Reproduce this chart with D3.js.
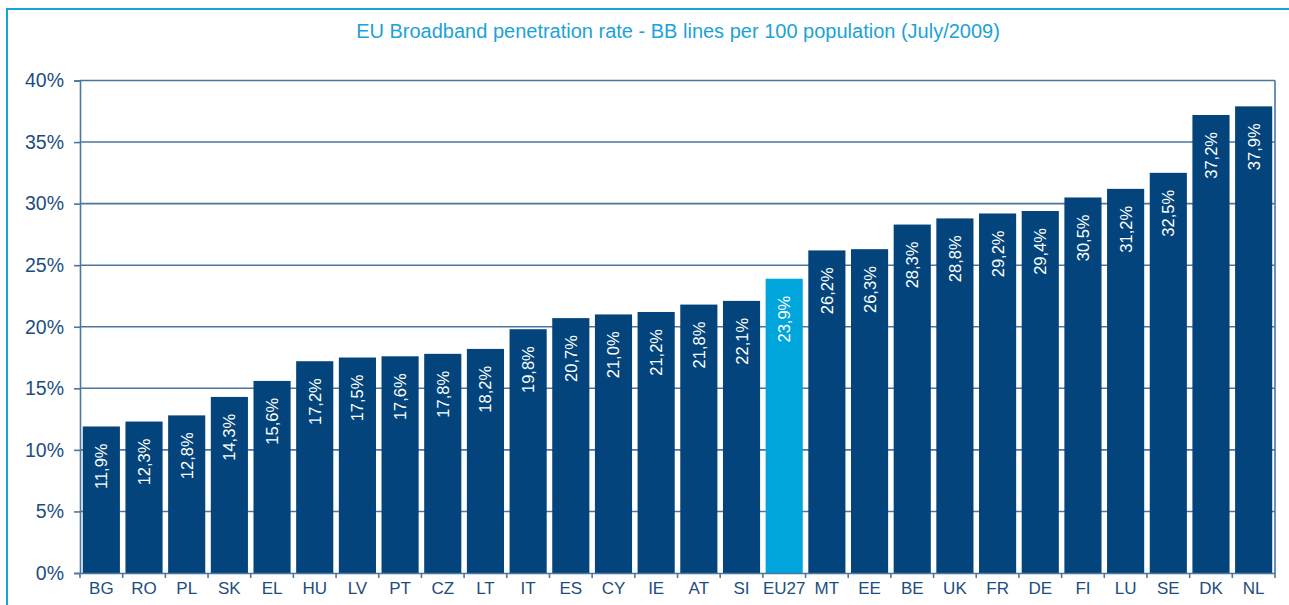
<!DOCTYPE html>
<html>
<head>
<meta charset="utf-8">
<script src="https://cdn.jsdelivr.net/npm/d3@7"></script>
<style>
  body { margin: 0; background: #fff; }
  svg { display: block; font-family: "Liberation Sans", Arial, sans-serif; }
</style>
</head>
<body>
<svg id="chart" width="1289" height="605"></svg>
<script>
// countries, sorted by penetration rate
var countries = ["BG", "RO", "PL", "SK", "EL", "HU", "LV", "PT", "CZ", "LT", "IT", "ES", "CY", "IE",
    "AT", "SI", "EU27", "MT", "EE", "BE", "UK", "FR", "DE", "FI", "LU", "SE", "DK", "NL"];
// BB lines per 100 population
var rates = [11.9, 12.3, 12.8, 14.3, 15.6, 17.2, 17.5, 17.6, 17.8, 18.2, 19.8, 20.7, 21.0, 21.2,
    21.8, 22.1, 23.9, 26.2, 26.3, 28.3, 28.8, 29.2, 29.4, 30.5, 31.2, 32.5, 37.2, 37.9];
var yTicks = [0, 5, 10, 15, 20, 25, 30, 35, 40];
var title = "EU Broadband penetration rate - BB lines per 100 population (July/2009)";

var data = countries.map(function (c, i) { return {name: c, value: rates[i]}; });

var svg = d3.select("#chart");
var plotLeft = 80, plotRight = 1275, plotTop = 80.5, plotBottom = 573;
var navy = "#02447b", cyan = "#00a6db", grid = "#4a76a0", text = "#1d4d7f";

// outer frame
svg.append("rect").attr("x", 7).attr("y", 9).attr("width", 1300).attr("height", 620)
    .attr("fill", "none").attr("stroke", "#12a5dc").attr("stroke-width", 2);

svg.append("text").attr("x", 678).attr("y", 38).attr("text-anchor", "middle")
    .attr("font-size", 20).attr("fill", "#1ba2d9").text(title);

var x = d3.scaleBand().domain(countries).range([plotLeft, plotRight]).paddingInner(0.13).paddingOuter(0.065);
var y = d3.scaleLinear().domain([0, 40]).range([plotBottom, plotTop]);

//gridlines
svg.append("g").selectAll("line").data(yTicks.filter(function (d) { return d > 0; })).enter()
    .append("line").attr("x1", plotLeft).attr("x2", plotRight)
    .attr("y1", function (d) { return y(d); }).attr("y2", function (d) { return y(d); })
    .attr("stroke", grid).attr("stroke-width", 1.6);
svg.append("line").attr("x1", plotRight).attr("x2", plotRight).attr("y1", plotTop).attr("y2", plotBottom)
    .attr("stroke", grid).attr("stroke-width", 1.6);

//bars
svg.append("g").selectAll("rect").data(data).enter().append("rect")
    .attr("x", function (d) { return x(d.name); })
    .attr("y", function (d) { return y(d.value); })
    .attr("width", x.bandwidth())
    .attr("height", function (d) { return plotBottom - y(d.value); })
    .attr("fill", function (d) { return d.name === "EU27" ? cyan : navy; });

//value labels
svg.append("g").selectAll("text").data(data).enter().append("text")
    .attr("transform", function (d) {
        return "translate(" + (x(d.name) + x.bandwidth() / 2 + 6) + "," + (y(d.value) + 17) + ") rotate(-90)";
    })
    .attr("text-anchor", "end").attr("font-size", 16.5).attr("fill", "#fff")
    .text(function (d) { return d.value.toFixed(1).replace(".", ",") + "%"; });

//y axis
var yAxis = svg.append("g").attr("transform", "translate(" + plotLeft + ",0)")
    .call(d3.axisLeft(y).tickValues(yTicks).tickSize(6).tickPadding(10)
        .tickFormat(function (d) { return d + "%"; }));
yAxis.select(".domain").attr("stroke", grid).attr("stroke-width", 1.6);
yAxis.selectAll(".tick line").attr("stroke", grid).attr("stroke-width", 1.6);
yAxis.selectAll("text").attr("font-size", 19.5).attr("fill", text).attr("font-family", null);

//x axis
var xAxis = svg.append("g").attr("transform", "translate(0," + plotBottom + ")")
    .call(d3.axisBottom(x).tickSize(0).tickPadding(9));
xAxis.select(".domain").attr("stroke", grid).attr("stroke-width", 1.6);
xAxis.selectAll("text").attr("font-size", 17).attr("fill", text).attr("font-family", null);
// ticks between the bands
var step = x.step();
svg.append("g").selectAll("line").data(d3.range(countries.length + 1)).enter().append("line")
    .attr("x1", function (i) { return plotLeft + i * step; }).attr("x2", function (i) { return plotLeft + i * step; })
    .attr("y1", plotBottom).attr("y2", plotBottom + 5)
    .attr("stroke", grid).attr("stroke-width", 1.6);
</script>
</body>
</html>
